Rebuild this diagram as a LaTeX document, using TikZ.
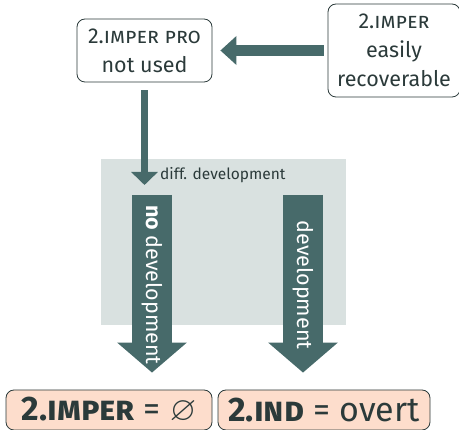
\documentclass[tikz,border=0pt]{standalone}
\usepackage{fontspec}
\usepackage{amssymb}
\setmainfont{Fira Sans}
\usetikzlibrary{arrows.meta}
\definecolor{arrowteal}{HTML}{476A6A}
\definecolor{panelgray}{HTML}{D9E1E0}
\definecolor{peach}{HTML}{FDDDCC}
\definecolor{inkdark}{HTML}{2B3A3A}
\begin{document}
\begin{tikzpicture}[x=1pt,y=-1pt,
  box/.style={draw=inkdark, line width=0.8pt, rounded corners=8pt, align=center,
    text=inkdark, inner sep=0pt, font=\fontsize{21.5}{29}\selectfont},
  result/.style={box, fill=peach, font=\fontsize{34}{36}\selectfont},
  smallarrow/.style={draw=arrowteal, line width=#1,
    -{Triangle[length=16pt,width=28pt]}},
  bigarrow/.style={draw=arrowteal, line width=40pt,
    -{Triangle[length=30pt,width=68pt]}},
  arrowtext/.style={rotate=-90, text=white, font=\fontsize{21.5}{23}\selectfont, inner sep=0pt}
]
\useasboundingbox (0,0) rectangle (459,430);

% background panel for the split
\fill[panelgray] (101,159) rectangle (346,325);

% boxes
\node[box, minimum width=135pt, minimum height=63pt] (pro) at (144.5,50.5)
  {2.\textsc{imper pro}\\not used};
\node[box, minimum width=132pt, minimum height=93pt] (rec) at (394,50.5)
  {2.\textsc{imper}\\easily\\recoverable};

\node[result, minimum width=206pt, minimum height=40pt] (imp) at (109,410)
  {\textbf{2.\textsc{imper}} = $\varnothing$};
\node[result, minimum width=212pt, minimum height=40pt] (ind) at (324,410)
  {\textbf{2.\textsc{ind}} = overt};

% connectors
\draw[smallarrow=11pt] ([xshift=-4pt]rec.west) -- ([xshift=8pt]pro.east);

\coordinate (split) at (144.5,185);
\draw[draw=arrowteal, line width=7.5pt, -{Triangle[length=13pt,width=26pt]}]
  ([yshift=-8pt]pro.south) -- (split);
\node[anchor=west, text=inkdark, font=\fontsize{15.5}{17}\selectfont, inner sep=0pt]
  (diff) at (160,175) {diff. development};

\coordinate (ltop) at (152,195);
\coordinate (rtop) at (303,195);
\draw[bigarrow] (ltop) -- ([yshift=17pt]imp.north -| ltop);
\draw[bigarrow] (rtop) -- ([yshift=17pt]ind.north -| rtop);

\node[arrowtext, anchor=west] (lno) at (152,205) {\textbf{no} development};
\node[arrowtext] (ldev) at (303,285) {development};
\end{tikzpicture}
\end{document}
